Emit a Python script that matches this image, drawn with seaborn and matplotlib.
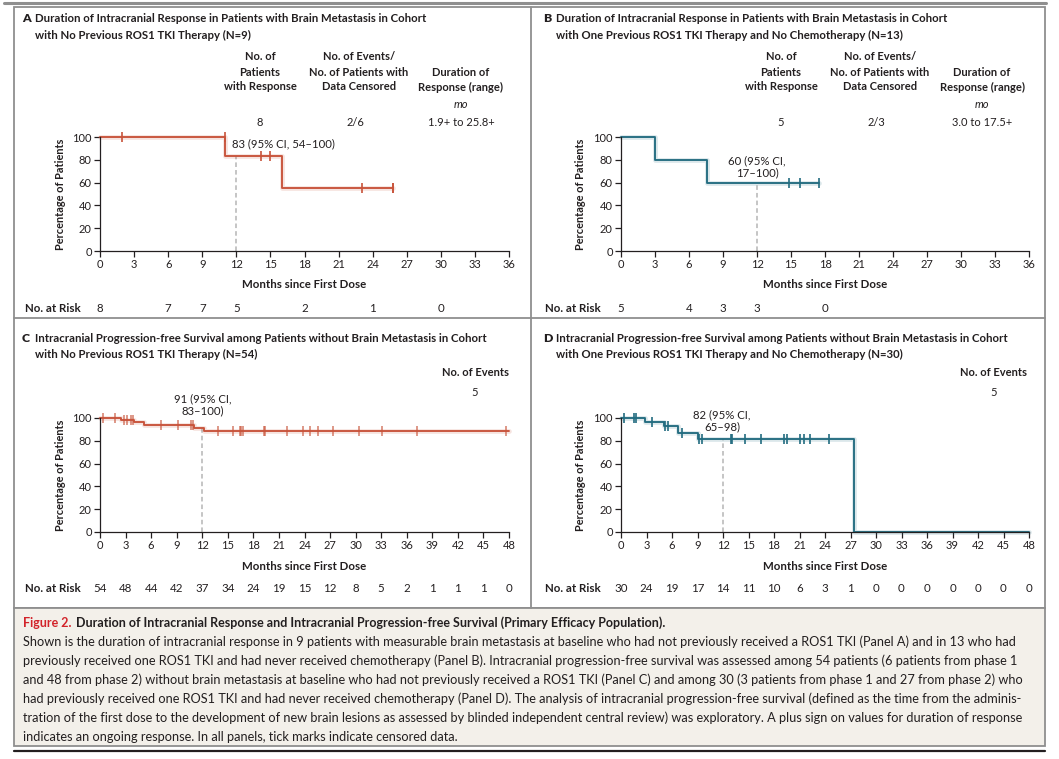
import matplotlib
matplotlib.use("Agg")
import matplotlib.pyplot as plt
import matplotlib.transforms as mtransforms
import seaborn as sns
import pandas as pd

sns.set_theme(style="ticks")
plt.rcParams["font.family"] = ["Lato", "DejaVu Sans"]

RED = "#c8533a"
TEAL = "#236c80"
GRAY = "#8f8f8f"
INK = "#231f20"

# ---- Panel A: duration of response, no previous ROS1 TKI
a_time = [0, 11.0, 16.0, 25.8]
a_surv = [100, 83.3, 55.6, 55.6]
a_cens_time = [1.9, 11.0, 14.2, 15.0, 23.1, 25.8, 25.8]
a_cens_surv = [100, 100, 83.3, 83.3, 55.6, 55.6, 55.6]
a_risk_time = [0, 6, 9, 12, 18, 24, 30]
a_risk = [8, 7, 7, 5, 2, 1, 0]

# ---- Panel B: duration of response, one previous ROS1 TKI
b_time = [0, 3.0, 7.6, 17.5]
b_surv = [100, 80, 60, 60]
b_cens_time = [14.8, 15.8, 17.5]
b_cens_surv = [60, 60, 60]
b_risk_time = [0, 6, 9, 12, 18]
b_risk = [5, 4, 3, 3, 0]

# ---- Panel C: intracranial PFS, no previous ROS1 TKI
c_time = [0, 2.5, 4.0, 5.2, 11.0, 12.2, 48]
c_surv = [100, 98.1, 96.1, 94.0, 91.4, 88.7, 88.7]
c_cens_time = [0.35, 1.8, 2.8, 3.2, 3.6, 3.9, 7.2, 9.2, 10.7, 10.9,
               13.8, 15.6, 16.4, 16.6, 16.8, 19.2, 19.4, 22.0, 23.8, 24.6,
               25.6, 27.3, 30.35, 33.05, 37.2, 47.6]
c_cens_surv = [100, 100, 98.1, 98.1, 98.1, 98.1, 94.0, 94.0, 94.0, 94.0,
               88.7, 88.7, 88.7, 88.7, 88.7, 88.7, 88.7, 88.7, 88.7, 88.7,
               88.7, 88.7, 88.7, 88.7, 88.7, 88.7]
c_risk = [54, 48, 44, 42, 37, 34, 24, 19, 15, 12, 8, 5, 2, 1, 1, 1, 0]

# ---- Panel D: intracranial PFS, one previous ROS1 TKI
d_time = [0, 2.8, 5.05, 6.7, 9.0, 27.4, 48]
d_surv = [100, 96.6, 92.6, 87.2, 82.0, 0, 0]
d_cens_time = [0.3, 1.5, 1.75, 3.65, 5.2, 5.5, 7.2, 9.2, 9.5, 12.9, 13.0,
               14.6, 16.5, 19.15, 19.5, 21.1, 21.5, 22.2, 24.5]
d_cens_surv = [100, 100, 100, 96.6, 92.6, 92.6, 87.2, 82.0, 82.0, 82.0, 82.0,
               82.0, 82.0, 82.0, 82.0, 82.0, 82.0, 82.0, 82.0]
d_risk = [30, 24, 19, 17, 14, 11, 10, 6, 3, 1, 0, 0, 0, 0, 0, 0, 0]

pfs_ticks = list(range(0, 49, 3))

W, H = 1059, 759
fig = plt.figure(figsize=(W / 100, H / 100), dpi=100)
fig.patch.set_facecolor("white")

bg = fig.add_axes([0, 0, 1, 1])
bg.set_xlim(0, W)
bg.set_ylim(H, 0)
bg.axis("off")

# frames
bg.plot([4, 1046], [3, 3], color=GRAY, lw=2.2)
bg.add_patch(plt.Rectangle((14, 7), 1031, 601, fill=False, ec=GRAY, lw=1.3))
bg.plot([531, 531], [7, 608], color=GRAY, lw=1.3)
bg.plot([14, 1045], [318, 318], color=GRAY, lw=1.3)
bg.add_patch(plt.Rectangle((14, 608), 1031, 138, fc="#f3f0ea", ec=GRAY, lw=1.3))
bg.plot([14, 1045], [751, 751], color=INK, lw=1.6)


def px_axes(l, t, r, b):
    return fig.add_axes([l / W, 1 - b / H, (r - l) / W, (b - t) / H])


def draw_panel(ax, t, s, ct, cs, color, xmax, ticks, risk_t, risk, x0, ybase,
               cens_alpha=1.0):
    df = pd.DataFrame({"t": t, "s": s})
    sns.lineplot(data=df, x="t", y="s", ax=ax, drawstyle="steps-post",
                 color=color, lw=3.4, alpha=0.16, estimator=None, sort=False,
                 legend=False, clip_on=False)
    sns.lineplot(data=df, x="t", y="s", ax=ax, drawstyle="steps-post",
                 color=color, lw=1.35, estimator=None, sort=False,
                 legend=False, clip_on=False)
    cdf = pd.DataFrame({"t": ct, "s": cs})
    sns.scatterplot(data=cdf, x="t", y="s", ax=ax, marker="|", s=55,
                    color=color, linewidth=1.2, alpha=cens_alpha,
                    legend=False, clip_on=False, zorder=4)
    ax.set_xlim(0, xmax)
    ax.set_ylim(0, 100)
    ax.set_xticks(ticks)
    ax.set_yticks(range(0, 101, 20))
    ax.tick_params(axis="both", direction="out", length=4, width=0.9,
                   labelsize=8, colors=INK, pad=2)
    ax.set_xlabel("")
    ax.set_ylabel("")
    ax.set_facecolor("none")
    for side in ["top", "right"]:
        ax.spines[side].set_visible(False)
    for side in ["left", "bottom"]:
        ax.spines[side].set_linewidth(0.9)
        ax.spines[side].set_color(INK)
    # labels
    mid = (ax.get_position().x0 + ax.get_position().x1) / 2 * W
    bot = (1 - ax.get_position().y0) * H
    top = (1 - ax.get_position().y1) * H
    bg.text(x0 + 46, (top + bot) / 2, "Percentage of Patients", rotation=90,
            ha="center", va="center", fontsize=7.9, fontweight="bold", color=INK)
    bg.text(mid, bot + 34, "Months since First Dose", ha="center", va="center",
            fontsize=8.3, fontweight="bold", color=INK)
    bg.text(x0 + 11, ybase, "No. at Risk", ha="left", va="center",
            fontsize=8.3, fontweight="bold", color=INK)
    tr = mtransforms.blended_transform_factory(ax.transData, bg.transData)
    for xt, n in zip(risk_t, risk):
        ax.text(xt, ybase, str(n), transform=tr, ha="center", va="center",
                fontsize=8.3, color=INK, clip_on=False)


def ref_line(ax, x, level):
    ax.plot([x, x], [0, level], color="#b5b5b5", lw=1.1, ls=(0, (3, 2)),
            zorder=1)


# ---- Panel A
axA = px_axes(100, 137, 509, 251)
draw_panel(axA, a_time, a_surv, a_cens_time, a_cens_surv, RED, 36,
           range(0, 37, 3), a_risk_time, a_risk, 14, 309)
ref_line(axA, 12, 83.3)
bg.text(232, 144, "83 (95% CI, 54\u2013100)", ha="left", va="center",
        fontsize=8.2, color=INK)

# ---- Panel B
axB = px_axes(621, 137, 1029, 251)
draw_panel(axB, b_time, b_surv, b_cens_time, b_cens_surv, TEAL, 36,
           range(0, 37, 3), b_risk_time, b_risk, 534, 309)
ref_line(axB, 12, 60)
bg.text(757, 167, "60 (95% CI,\n17\u2013100)", ha="center", va="center",
        fontsize=8.2, color=INK, linespacing=1.15)

# ---- Panel C
axC = px_axes(100, 418, 509, 532)
draw_panel(axC, c_time, c_surv, c_cens_time, c_cens_surv, RED, 48,
           pfs_ticks, pfs_ticks, c_risk, 14, 588, cens_alpha=0.7)
ref_line(axC, 12, 91)
bg.text(203, 405, "91 (95% CI,\n83\u2013100)", ha="center", va="center",
        fontsize=8.2, color=INK, linespacing=1.15)

# ---- Panel D
axD = px_axes(621, 418, 1029, 532)
draw_panel(axD, d_time, d_surv, d_cens_time, d_cens_surv, TEAL, 48,
           pfs_ticks, pfs_ticks, d_risk, 534, 588)
ref_line(axD, 12, 82)
bg.text(722, 421, "82 (95% CI,\n65\u201398)", ha="center", va="center",
        fontsize=8.2, color=INK, linespacing=1.15)

# ---- panel titles
titles = [
    (22, 19, "A", "Duration of Intracranial Response in Patients with Brain Metastasis in Cohort",
     "with No Previous ROS1 TKI Therapy (N=9)"),
    (543, 19, "B", "Duration of Intracranial Response in Patients with Brain Metastasis in Cohort",
     "with One Previous ROS1 TKI Therapy and No Chemotherapy (N=13)"),
    (22, 338, "C", "Intracranial Progression-free Survival among Patients without Brain Metastasis in Cohort",
     "with No Previous ROS1 TKI Therapy (N=54)"),
    (543, 338, "D", "Intracranial Progression-free Survival among Patients without Brain Metastasis in Cohort",
     "with One Previous ROS1 TKI Therapy and No Chemotherapy (N=30)"),
]
for x, y, letter, l1, l2 in titles:
    bg.text(x, y, letter, ha="left", va="center", fontsize=8.8,
            fontweight="heavy", color=INK)
    bg.text(x + 13, y, l1, ha="left", va="center", fontsize=8.2,
            fontweight="bold", color=INK)
    bg.text(x + 13, y + 16, l2, ha="left", va="center", fontsize=8.2,
            fontweight="bold", color=INK)

# ---- response tables (A, B)
hdr = dict(ha="center", va="center", fontsize=8, fontweight="bold", color=INK)
val = dict(ha="center", va="center", fontsize=8, color=INK)
for dx, vals in [(0, ["8", "2/6", "1.9+ to 25.8+"]),
                 (521, ["5", "2/3", "3.0 to 17.5+"])]:
    bg.text(260 + dx, 57, "No. of", **hdr)
    bg.text(260 + dx, 72, "Patients", **hdr)
    bg.text(260 + dx, 87, "with Response", **hdr)
    bg.text(359 + dx, 57, "No. of Events/", **hdr)
    bg.text(359 + dx, 72, "No. of Patients with", **hdr)
    bg.text(359 + dx, 87, "Data Censored", **hdr)
    bg.text(461 + dx, 72, "Duration of", **hdr)
    bg.text(461 + dx, 87, "Response (range)", **hdr)
    bg.text(461 + dx, 104, "mo", ha="center", va="center", fontsize=8,
            style="italic", color=INK)
    bg.text(260 + dx, 123, vals[0], **val)
    bg.text(355 + dx, 123, vals[1], **val)
    bg.text(461 + dx, 123, vals[2], **val)

# ---- event counts (C, D)
for xc in [475, 994]:
    bg.text(xc, 372, "No. of Events", **hdr)
    bg.text(xc, 393, "5", **val)

# ---- caption
fig_lbl = bg.text(23, 623, "Figure 2.", ha="left", va="center", fontsize=9,
                  fontweight="bold", color="#d2232a")
bg.annotate("Duration of Intracranial Response and Intracranial Progression-free Survival (Primary Efficacy Population).",
            xy=(1, 0.5), xycoords=fig_lbl, xytext=(3, 0),
            textcoords="offset points", ha="left", va="center", fontsize=9,
            fontweight="bold", color=INK)
caption_lines = [
    "Shown is the duration of intracranial response in 9 patients with measurable brain metastasis at baseline who had not previously received a ROS1 TKI (Panel A) and in 13 who had",
    "previously received one ROS1 TKI and had never received chemotherapy (Panel B). Intracranial progression-free survival was assessed among 54 patients (6 patients from phase 1",
    "and 48 from phase 2) without brain metastasis at baseline who had not previously received a ROS1 TKI (Panel C) and among 30 (3 patients from phase 1 and 27 from phase 2) who",
    "had previously received one ROS1 TKI and had never received chemotherapy (Panel D). The analysis of intracranial progression-free survival (defined as the time from the adminis-",
    "tration of the first dose to the development of new brain lesions as assessed by blinded independent central review) was exploratory. A plus sign on values for duration of response",
    "indicates an ongoing response. In all panels, tick marks indicate censored data.",
]
for i, line in enumerate(caption_lines):
    bg.text(23, 642 + i * 19, line, ha="left", va="center", fontsize=9.2,
            color=INK)

fig.savefig("out.png", dpi=100)
